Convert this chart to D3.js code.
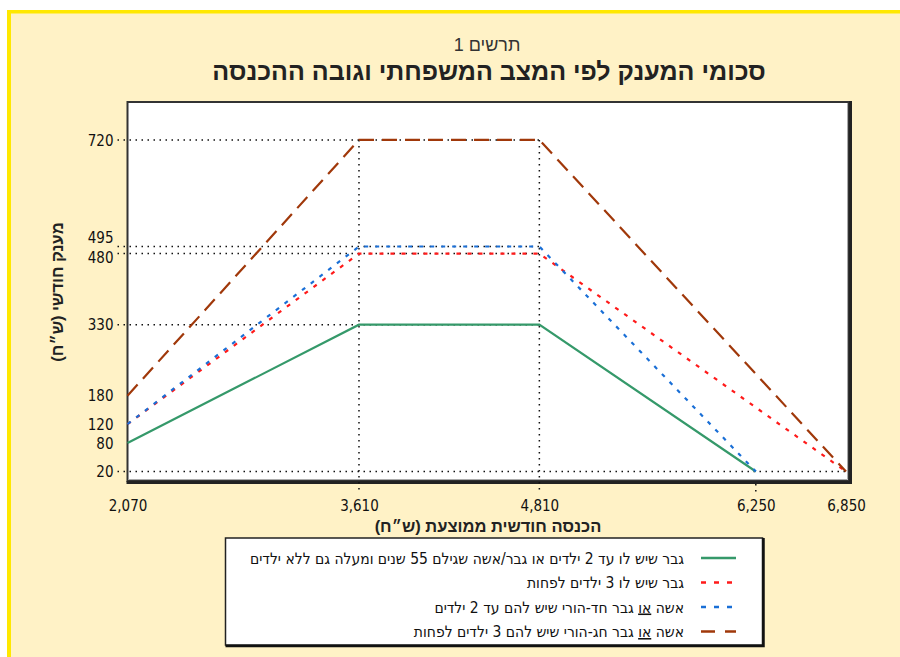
<!DOCTYPE html>
<html>
<head>
<meta charset="utf-8">
<script src="https://cdn.jsdelivr.net/npm/d3@7"></script>
<style>
  body { margin:0; background:#fff; }
  svg { display:block; }
</style>
</head>
<body>
<svg id="chart"></svg>
<script>
// chart values
var xTicks = [2070, 3610, 4810, 6250, 6850];
var yTicks = [20, 80, 120, 180, 330, 480, 495, 720];
var gridY = [330, 480, 495, 720];   // dotted lines up to the plateau
var gridX = [3610, 4810];

var seriesNames = [
  "גבר שיש לו עד 2 ילדים או גבר/אשה שגילם 55 שנים ומעלה גם ללא ילדים",
  "גבר שיש לו 3 ילדים לפחות",
  "אשה |או| גבר חד-הורי שיש להם עד 2 ילדים",
  "אשה |או| גבר חג-הורי שיש להם 3 ילדים לפחות"
];
var greenIncome = [2070, 3610, 4810, 6250];
var greenGrant  = [80, 330, 330, 20];
var redIncome   = [2070, 3610, 4810, 6850];
var redGrant    = [120, 480, 480, 20];
var blueIncome  = [2070, 3610, 4810, 6250];
var blueGrant   = [120, 495, 495, 20];
var brownIncome = [2070, 3610, 4810, 6850];
var brownGrant  = [180, 720, 720, 20];

var colors = ["#35996a", "#ff1a1a", "#1a6fd6", "#a0380a"];
var dashes = [null, "4,7", "4,7", "15,8"];
var legendDashes = [null, "5,8", "5,8", "14,10"];

var series = [
  {name: seriesNames[0], inc: greenIncome, val: greenGrant},
  {name: seriesNames[1], inc: redIncome,   val: redGrant},
  {name: seriesNames[2], inc: blueIncome,  val: blueGrant},
  {name: seriesNames[3], inc: brownIncome, val: brownGrant}
];

var screen = {width: 900, height: 657};
var plot = {left: 127.5, right: 849, top: 102, bottom: 481};

var svg = d3.select("#chart")
  .attr("width", screen.width)
  .attr("height", screen.height);

// background + yellow frame
svg.append("rect").attr("width", screen.width).attr("height", screen.height).attr("fill", "#fff");
svg.append("rect").attr("x", 7).attr("y", 10).attr("width", screen.width).attr("height", screen.height)
  .attr("fill", "#fff2c6");
svg.append("rect").attr("x", 7).attr("y", 10).attr("width", screen.width).attr("height", 3.5).attr("fill", "#ffe800");
svg.append("rect").attr("x", 7).attr("y", 10).attr("width", 4).attr("height", screen.height).attr("fill", "#ffe800");

var xScale = d3.scaleLinear().domain([2070, 6870]).range([plot.left, plot.right]);
var yScale = d3.scaleLinear().domain([0, 800]).range([plot.bottom, plot.top]);

// titles
svg.append("text")
  .attr("x", 487).attr("y", 51)
  .attr("direction", "rtl")
  .attr("text-anchor", "middle")
  .attr("font-family", "Liberation Sans, Arial")
  .attr("font-size", 18)
  .attr("fill", "#333")
  .text("תרשים 1");

svg.append("text")
  .attr("x", 489).attr("y", 80)
  .attr("direction", "rtl")
  .attr("text-anchor", "middle")
  .attr("font-family", "Liberation Sans, Arial")
  .attr("font-size", 25)
  .attr("font-weight", "bold")
  .attr("fill", "#222")
  .text("סכומי המענק לפי המצב המשפחתי וגובה ההכנסה");

// plot area
svg.append("rect")
  .attr("x", plot.left).attr("y", plot.top)
  .attr("width", plot.right - plot.left).attr("height", plot.bottom - plot.top)
  .attr("fill", "white")
  .style("stroke", "#333")
  .style("stroke-width", 2);
// shadow on right and bottom
svg.append("path")
  .attr("d", "M" + (plot.right + 1.5) + "," + (plot.top - 1) + "V" + (plot.bottom + 1.5) + "H" + (plot.left - 1))
  .attr("fill", "none")
  .style("stroke", "#222")
  .style("stroke-width", 3);
svg.append("path")
  .attr("d", "M" + (plot.right - 1.5) + "," + (plot.top + 1) + "V" + (plot.bottom - 1.5) + "H" + (plot.left + 1))
  .attr("fill", "none")
  .style("stroke", "#aaa")
  .style("stroke-width", 1);

// dotted grid
var grid = svg.append("g").classed("grid", true)
  .style("stroke", "#111").style("stroke-width", 1.5).style("stroke-dasharray", "1.5,4.5");

grid.selectAll("line.h")
  .data(gridY).enter().append("line")
  .attr("x1", plot.left - 10).attr("x2", xScale(4810))
  .attr("y1", function(d){ return yScale(d); })
  .attr("y2", function(d){ return yScale(d); });

grid.append("line")
  .attr("x1", plot.left - 10).attr("x2", plot.right - 2)
  .attr("y1", yScale(20)).attr("y2", yScale(20));

grid.selectAll("line.v")
  .data(gridX).enter().append("line")
  .attr("x1", function(d){ return xScale(d); })
  .attr("x2", function(d){ return xScale(d); })
  .attr("y1", yScale(720)).attr("y2", plot.bottom + 12);

grid.append("line")
  .attr("x1", xScale(6250)).attr("x2", xScale(6250))
  .attr("y1", plot.bottom + 3).attr("y2", plot.bottom + 12);

// data lines
var line = d3.line()
  .x(function(d){ return xScale(d[0]); })
  .y(function(d){ return yScale(d[1]); });

svg.append("g").selectAll("path")
  .data(series).enter().append("path")
  .attr("d", function(s){ return line(d3.zip(s.inc, s.val)); })
  .attr("fill", "none")
  .style("stroke", function(s, i){ return colors[i]; })
  .style("stroke-width", 2.2)
  .style("stroke-dasharray", function(s, i){ return dashes[i]; });

// axes (labels only)
var yAxis = d3.axisLeft(yScale).tickValues(yTicks).tickSize(0).tickPadding(0).tickFormat(d3.format(","));
var gy = svg.append("g").attr("transform", "translate(" + (plot.left - 14) + ",0)").call(yAxis);
gy.select(".domain").remove();
gy.selectAll("text")
  .attr("font-family", "DejaVu Sans Condensed, Liberation Sans")
  .attr("font-size", 15).attr("fill", "#111")
  .attr("dy", function(d){ return d === 495 ? "-0.27em" : (d === 480 ? "0.58em" : "0.35em"); });

var xAxis = d3.axisBottom(xScale).tickValues(xTicks).tickSize(0).tickPadding(0).tickFormat(d3.format(","));
var gx = svg.append("g").attr("transform", "translate(0," + (plot.bottom + 16) + ")").call(xAxis);
gx.select(".domain").remove();
gx.selectAll("text")
  .attr("font-family", "DejaVu Sans Condensed, Liberation Sans")
  .attr("font-size", 15).attr("fill", "#111").attr("dy", "0.9em");

// axis titles
svg.append("text")
  .attr("x", 488).attr("y", 532)
  .attr("direction", "rtl")
  .attr("text-anchor", "middle")
  .attr("font-family", "Liberation Sans, Arial")
  .attr("font-size", 16.5)
  .attr("font-weight", "bold")
  .attr("fill", "#222")
  .text("הכנסה חודשית ממוצעת (ש״ח)");

svg.append("text")
  .attr("transform", "translate(63,292) rotate(-90)")
  .attr("direction", "rtl")
  .attr("text-anchor", "middle")
  .attr("font-family", "Liberation Sans, Arial")
  .attr("font-size", 16.5)
  .attr("font-weight", "bold")
  .attr("fill", "#222")
  .text("מענק חודשי (ש״ח)");

// legend
var legendBox = {x: 225.5, y: 538, w: 537, h: 107};
svg.append("rect")
  .attr("x", legendBox.x).attr("y", legendBox.y)
  .attr("width", legendBox.w).attr("height", legendBox.h)
  .attr("fill", "white")
  .style("stroke", "#222").style("stroke-width", 1.5);
svg.append("path")
  .attr("d", "M" + (legendBox.x + legendBox.w + 1) + "," + legendBox.y + "V" + (legendBox.y + legendBox.h + 1) + "H" + legendBox.x)
  .attr("fill", "none").style("stroke", "#111").style("stroke-width", 2.5);

var legendRows = svg.append("g").selectAll("g")
  .data(series).enter().append("g")
  .attr("transform", function(s, i){ return "translate(0," + (558 + i * 24.5) + ")"; });

legendRows.append("line")
  .attr("x1", 701).attr("x2", 736)
  .attr("y1", 0).attr("y2", 0)
  .style("stroke", function(s, i){ return colors[i]; })
  .style("stroke-width", 2.5)
  .style("stroke-dasharray", function(s, i){ return legendDashes[i]; });

var legendText = legendRows.append("text")
  .attr("x", 684).attr("y", 5.5)
  .attr("direction", "rtl")
  .attr("text-anchor", "start")
  .attr("font-family", "DejaVu Sans Condensed, Liberation Sans")
  .attr("font-size", 15.5)
  .attr("fill", "#111");

legendText.each(function(s){
  var t = d3.select(this);
  s.name.split("|").forEach(function(part, k){
    var ts = t.append("tspan").text(part);
    if (k === 1) ts.style("text-decoration", "underline");
  });
});
</script>
</body>
</html>
